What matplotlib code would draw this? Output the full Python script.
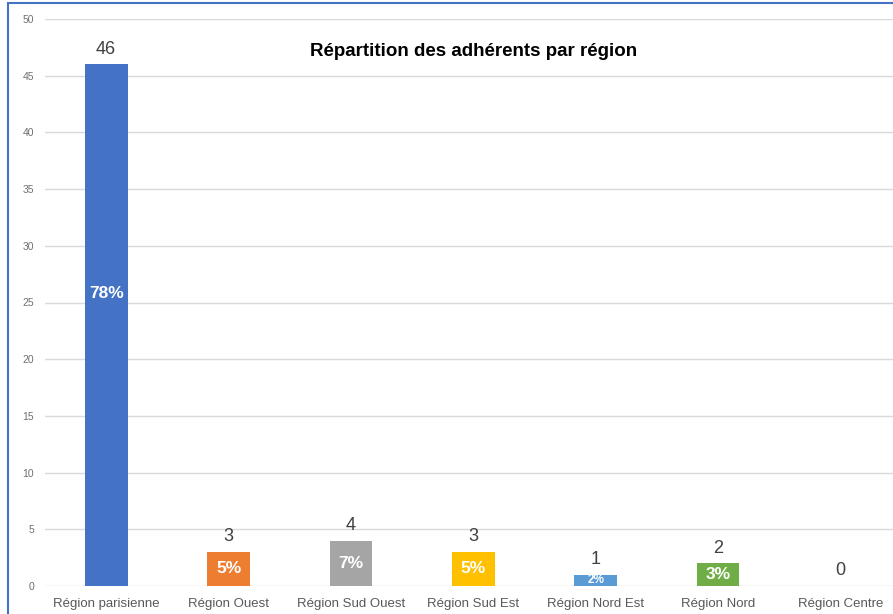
import numpy as np
import matplotlib
matplotlib.use("Agg")
import matplotlib.pyplot as plt
from matplotlib.patches import Rectangle

plt.rcParams['font.family'] = ['Liberation Sans', 'DejaVu Sans']

regions = ["Région parisienne", "Région Ouest", "Région Sud Ouest", "Région Sud Est",
           "Région Nord Est", "Région Nord", "Région Centre"]
counts = [46, 3, 4, 3, 1, 2, 0]
colors = ["#4472C4", "#ED7D31", "#A5A5A5", "#FFC000", "#5B9BD5", "#70AD47", "#264478"]

total = sum(counts)

fig = plt.figure(figsize=(8.93, 6.14), dpi=100)
ax = fig.add_axes([45 / 893, (614 - 586) / 614, 848 / 893, (586 - 19) / 614])

x = np.arange(len(regions))
bars = ax.bar(x, counts, width=0.35, color=colors, zorder=3)

ax.set_ylim(0, 50)
ax.set_xlim(-0.5, 6.43)
ax.set_yticks(range(0, 51, 5))
ax.grid(axis='y', color='#D9D9D9', linewidth=1, zorder=0)
for s in ax.spines.values():
    s.set_visible(False)
ax.tick_params(axis='y', length=0, labelsize=7.5, labelcolor='#707070', pad=8)
ax.tick_params(axis='x', length=0, labelsize=9.5, labelcolor='#595959', pad=9)
ax.set_xticks(x)
ax.set_xticklabels(regions)

for i, (b, v) in enumerate(zip(bars, counts)):
    ax.text(b.get_x() + b.get_width() / 2, v + 0.6, str(v), ha='center', va='bottom',
            fontsize=13, color='#404040')
    if v > 0:
        pct = f"{round(100 * v / total)}%"
        ypos = v * 0.56 if v > 10 else v / 2
        ax.text(b.get_x() + b.get_width() / 2, ypos, pct, ha='center', va='center',
                fontsize=8.5 if v < 2 else 12.5, fontweight='bold', color='white', zorder=4)

fig.text(474 / 893, 1 - 51 / 614, "Répartition des adhérents par région", ha='center',
         va='center', fontsize=13.5, fontweight='bold', color='black')

fig.patches.append(Rectangle((8 / 893, -0.1), 1.2, 1 - 3 / 614 + 0.1, transform=fig.transFigure,
                             fill=False, edgecolor='#4472C4', linewidth=1.5))

fig.savefig("out.png", dpi=100)
